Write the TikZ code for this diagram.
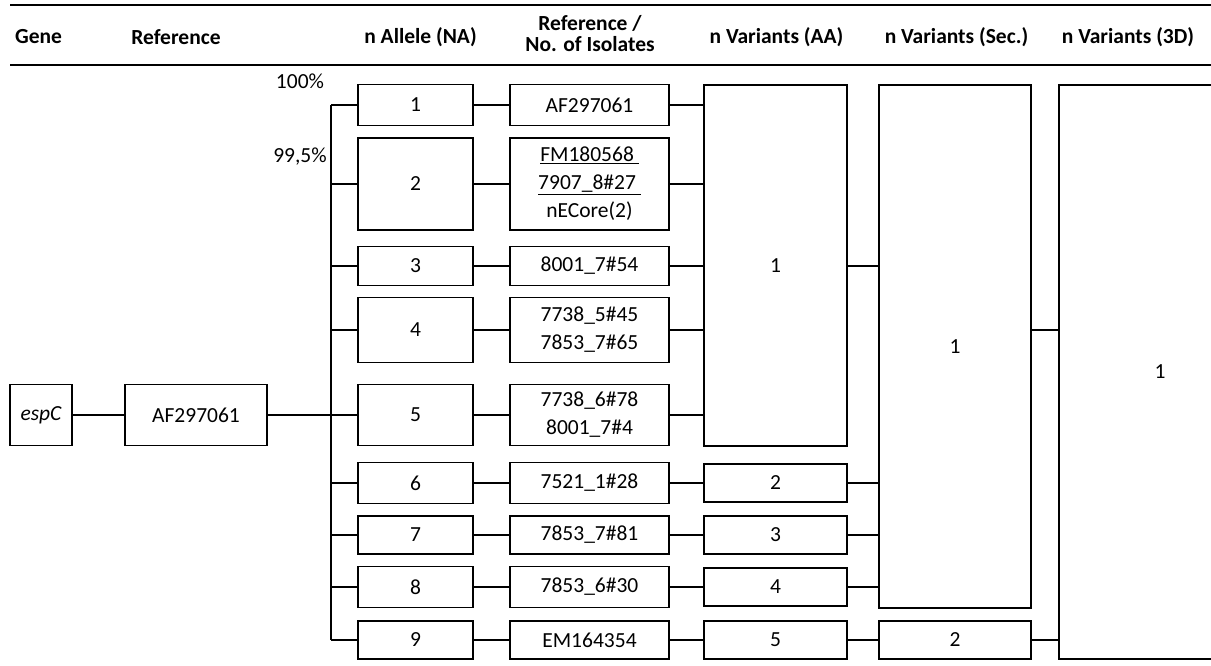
\documentclass[tikz,border=0pt]{standalone}
\usepackage{fontspec}
\setmainfont{Carlito}
\usepackage{tikz}
\usetikzlibrary{positioning,calc}

\begin{document}
\begin{tikzpicture}[
  x=1pt, y=-1pt,
  cell/.style={draw, line width=1.8pt, inner sep=0pt, align=center,
    font=\fontsize{21.5}{28}\selectfont},
  head/.style={font=\fontsize{21.5}{21}\selectfont\bfseries, align=center, inner sep=0pt},
  pct/.style={font=\fontsize{21.5}{21.5}\selectfont, inner sep=0pt},
  link/.style={line width=1.8pt},
  rule/.style={line width=2.4pt}
]
\useasboundingbox (0,0) rectangle (1211,666);
\clip (0,0) rectangle (1211,666);

% header
\coordinate (rl) at (10,5);
\coordinate (rr) at (1211,5);
\draw[rule] (rl) -- (rr);
\draw[rule] ($(rl)+(0,60)$) -- ($(rr)+(0,60)$);
\node[head] (hgene) at (38.5,37) {Gene};
\node[head] (href) at (176,37) {Reference};
\node[head] (hal) at (420.5,37) {n Allele (NA)};
\node[head] (hiso) at (590,34) {Reference /\\No. of Isolates};
\node[head] (haa) at (776.5,37) {n Variants (AA)};
\node[head] (hsec) at (956.5,37) {n Variants (Sec.)};
\node[head] (htd) at (1128,37) {n Variants (3D)};

\node[pct] (p100) at (300,81) {100\%};
\node[pct] (p995) at (300,157) {99,5\%};

% gene and reference
\node[cell, minimum width=62pt, minimum height=61pt] (gene) at (41,415) {\itshape espC};
\node[cell, minimum width=142pt, minimum height=61pt] (af) at (196,415) {AF297061};

% alleles
\foreach \i/\y/\h in {1/105/41, 2/184/92, 3/266/39, 4/330/65, 5/415/61,
                      6/483/41, 7/535/38, 8/587/41, 9/640/38} {
  \node[cell, minimum width=115pt, minimum height=\h pt] (al\i) at (415.5,\y) {\i};
}

% isolates
\node[cell, minimum width=159pt, minimum height=41pt] (ref1) at (al1 -| 589.5,0) {AF297061};
\node[cell, minimum width=159pt, minimum height=92pt] (ref2) at (al2 -| 589.5,0)
  {\underline{FM180568\ }\\\underline{7907\_8\#27\ }\\nECore(2)};
\node[cell, minimum width=159pt, minimum height=39pt] (ref3) at (al3 -| 589.5,0) {8001\_7\#54};
\node[cell, minimum width=159pt, minimum height=65pt] (ref4) at (al4 -| 589.5,0) {7738\_5\#45\\7853\_7\#65};
\node[cell, minimum width=159pt, minimum height=61pt] (ref5) at (al5 -| 589.5,0) {7738\_6\#78\\8001\_7\#4};
\node[cell, minimum width=159pt, minimum height=41pt] (ref6) at (al6 -| 589.5,0) {7521\_1\#28};
\node[cell, minimum width=159pt, minimum height=38pt] (ref7) at (al7 -| 589.5,0) {7853\_7\#81};
\node[cell, minimum width=159pt, minimum height=41pt] (ref8) at (al8 -| 589.5,0) {7853\_6\#30};
\node[cell, minimum width=159pt, minimum height=38pt] (ref9) at (al9 -| 589.5,0) {EM164354};

% variants
\node[cell, minimum width=143pt, minimum height=361pt] (aa) at (775.5,265.5) {1};
\foreach \i/\t in {6/2, 7/3, 8/4, 9/5} {
  \node[cell, minimum width=143pt, minimum height=38pt] (aa\i) at (al\i -| 775.5,0) {\t};
}
\node[cell, minimum width=152pt, minimum height=523pt] (sec) at (955,346.5) {1};
\node[cell, minimum width=152pt, minimum height=38pt] (sec9) at (al9 -| 955,0) {2};
\node[cell, minimum width=202pt, minimum height=574pt] (td) at (1160,372) {1};

% connectors
\coordinate (tk) at (331,0);
\draw[link] (gene) -- (af);
\draw[link] (af) -- (al5);
\draw[link] (al1.west -| tk) -- (al9.west -| tk);
\foreach \i in {1,...,9} {
  \draw[link] (al\i.west -| tk) -- (al\i.west);
  \draw[link] (al\i) -- (ref\i);
}
\foreach \i in {1,...,5} {
  \draw[link] (ref\i.east) -- (ref\i.east -| aa.west);
}
\foreach \i in {6,7,8,9} {
  \draw[link] (ref\i) -- (aa\i);
}
\draw[link] (ref3.east -| aa.east) -- (ref3.east -| sec.west);
\foreach \i in {6,7,8} {
  \draw[link] (aa\i.east) -- (aa\i.east -| sec.west);
}
\draw[link] (aa9) -- (sec9);
\draw[link] (ref4.east -| sec.east) -- (ref4.east -| td.west);
\draw[link] (sec9.east) -- (sec9.east -| td.west);
\end{tikzpicture}
\end{document}
